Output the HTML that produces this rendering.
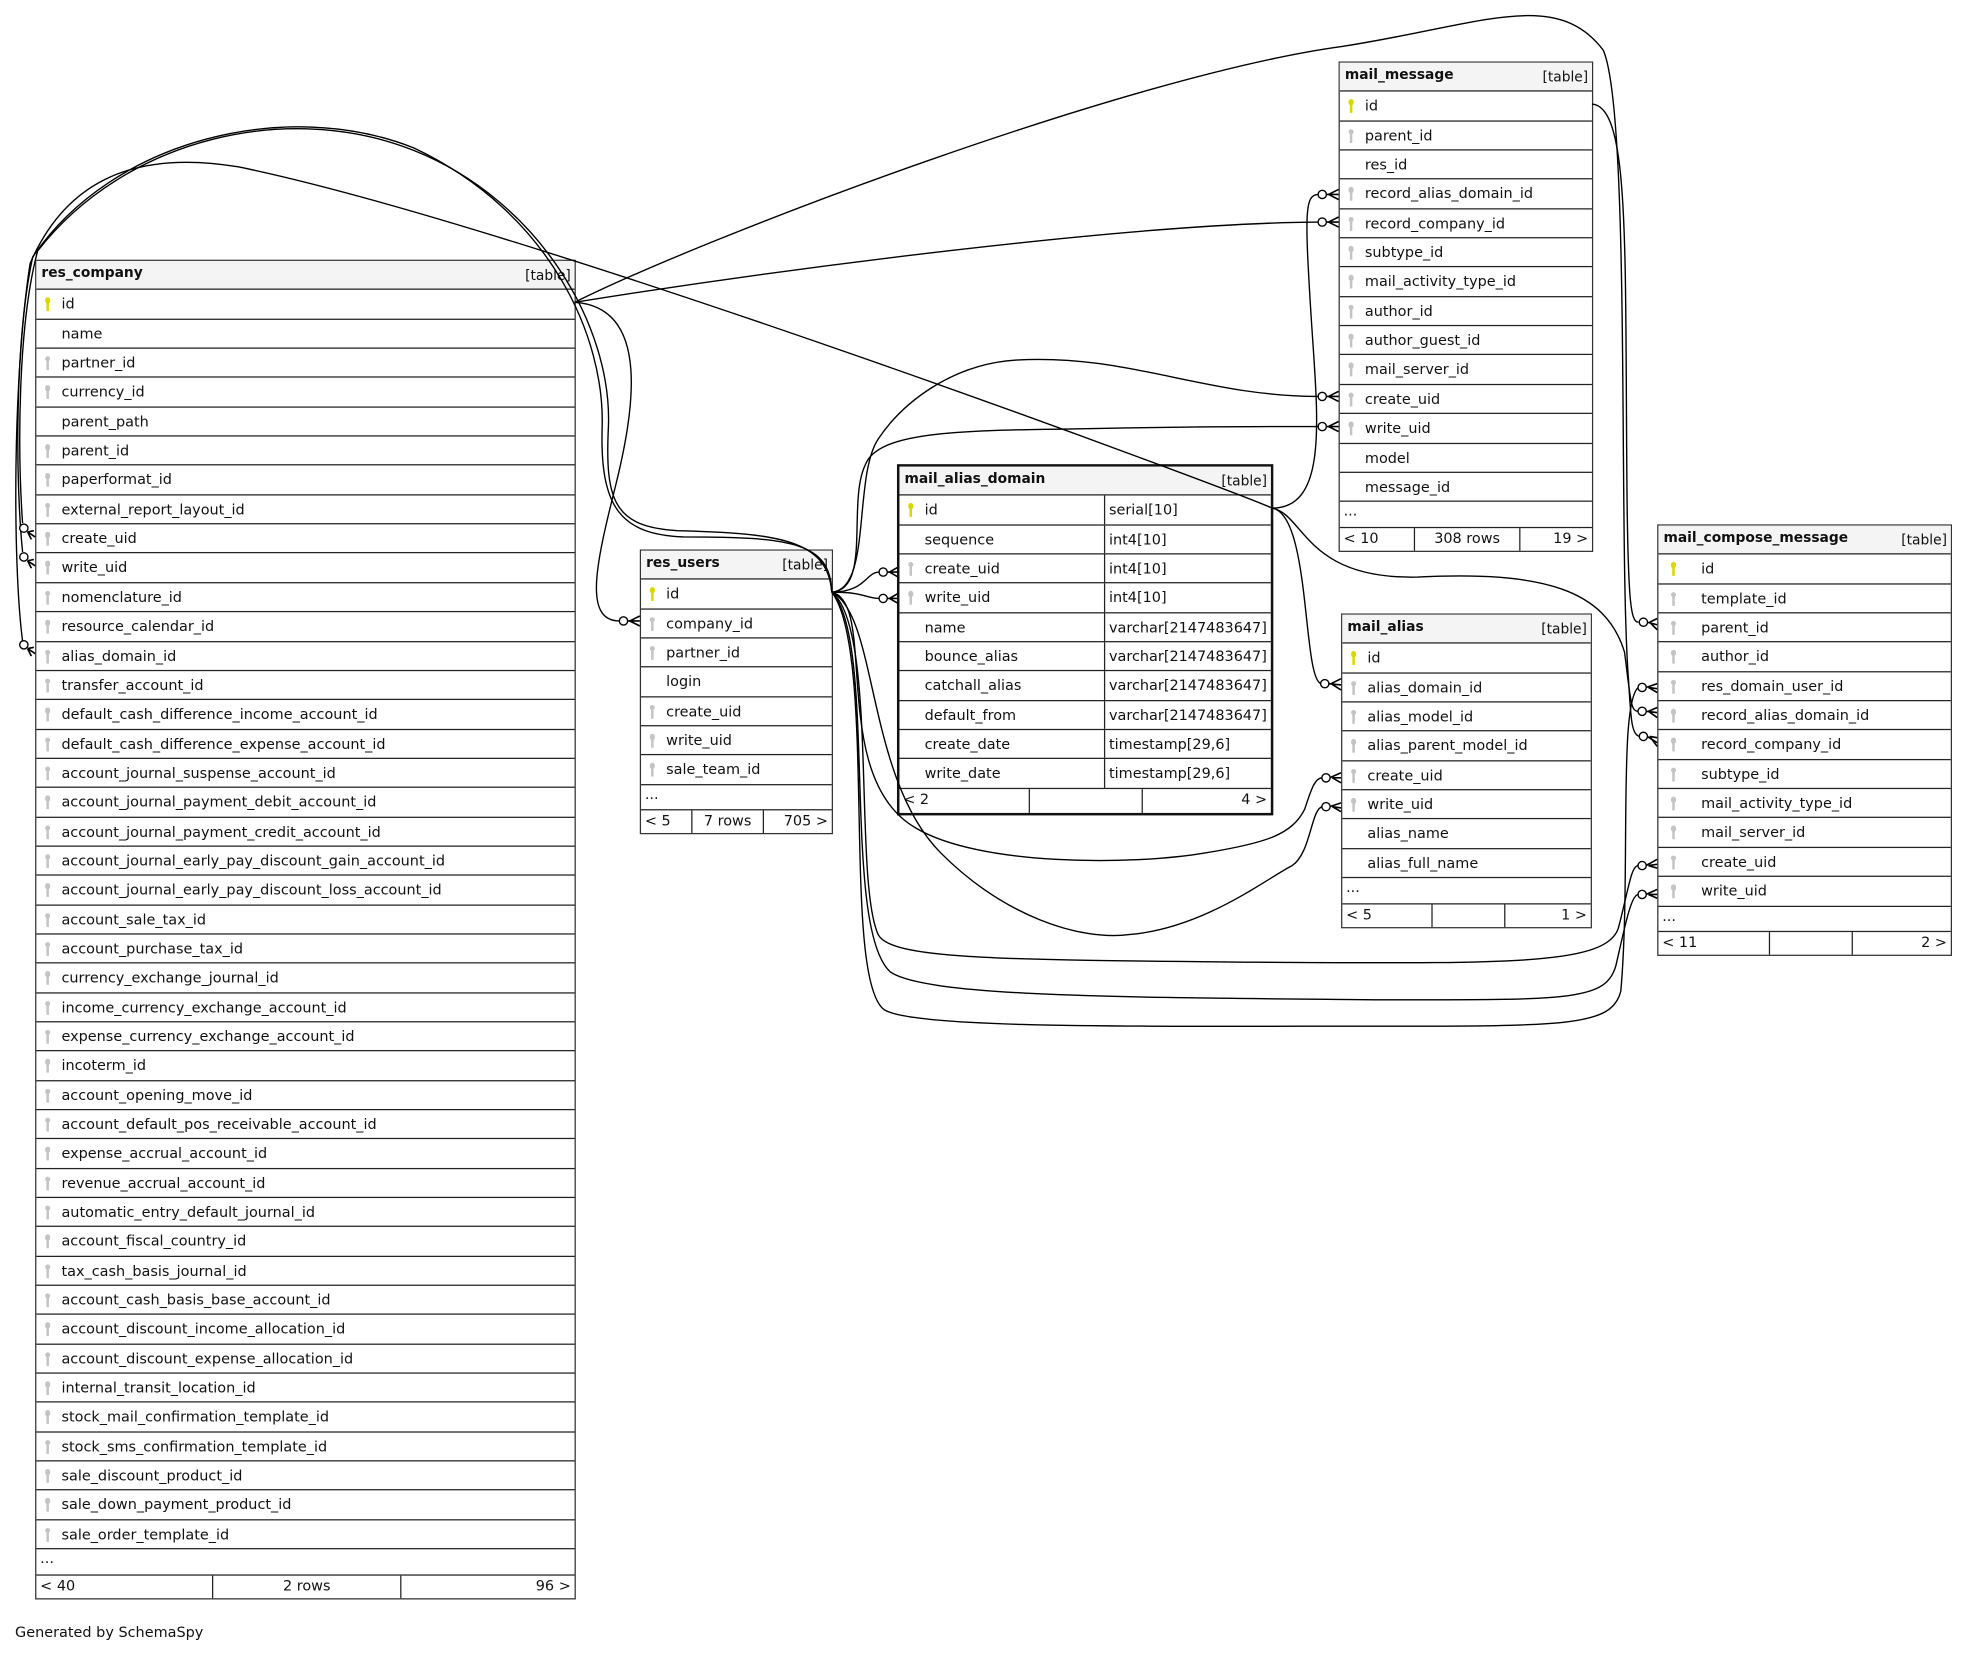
<!DOCTYPE html>
<html><head><meta charset="utf-8"><style>
html,body{margin:0;padding:0;background:#fff;width:1967px;height:1653px;overflow:hidden}
#c{position:absolute;left:0;top:0;width:1568px;height:1318px;transform:scale(1.2545);transform-origin:0 0;font-family:"DejaVu Sans","Liberation Sans",sans-serif;font-size:11.5px;color:#111}
.t{position:absolute;border:1.2px solid #333;background:#fff;box-sizing:border-box}
.t.b{border:2.6px solid #111}
.h{height:23.4px;background:#f4f4f4;border-bottom:1.2px solid #222;box-sizing:border-box;display:flex;justify-content:space-between;align-items:center;padding:0 3px 0 4px;white-space:nowrap;font-size:11px}
.h b{font-weight:bold;position:relative;top:-2px}
.r{height:23.35px;border-bottom:1.2px solid #222;box-sizing:border-box;line-height:22px;padding-left:20px;position:relative;white-space:nowrap}
.w .r{padding-left:34px}
.r.k::before{content:"";position:absolute;left:6.5px;top:6px;width:4.4px;height:4.4px;border-radius:50%;background:#c4c4c4}
.r.k::after{content:"";position:absolute;left:8px;top:8px;width:1.6px;height:9px;background:#c4c4c4}
.w .r.k::before{left:9.5px}.w .r.k::after{left:11px}
.r.p::before,.r.p::after{background:#d8d800}
.d{height:20.5px;border-bottom:1.2px solid #222;box-sizing:border-box;line-height:15px;padding-left:3px}
.f{display:flex;height:18px;line-height:17px;white-space:nowrap}
.f div{box-sizing:border-box;padding:0 3px}
.f div+div{border-left:1.2px solid #222}
.f .m{text-align:center}.f .e{text-align:right}
.r .ty{position:absolute;left:163px;top:0;bottom:0;border-left:1.2px solid #222;padding-left:3px}
svg{position:absolute;left:0;top:0}
</style></head><body><div id="c">

<div class="t" style="left:28px;top:207px;width:431px">
<div class="h"><b>res_company</b><span>[table]</span></div>
<div class="r k p">id</div><div class="r">name</div><div class="r k">partner_id</div><div class="r k">currency_id</div><div class="r">parent_path</div><div class="r k">parent_id</div><div class="r k">paperformat_id</div><div class="r k">external_report_layout_id</div><div class="r k">create_uid</div><div class="r k">write_uid</div><div class="r k">nomenclature_id</div><div class="r k">resource_calendar_id</div><div class="r k">alias_domain_id</div><div class="r k">transfer_account_id</div><div class="r k">default_cash_difference_income_account_id</div><div class="r k">default_cash_difference_expense_account_id</div><div class="r k">account_journal_suspense_account_id</div><div class="r k">account_journal_payment_debit_account_id</div><div class="r k">account_journal_payment_credit_account_id</div><div class="r k">account_journal_early_pay_discount_gain_account_id</div><div class="r k">account_journal_early_pay_discount_loss_account_id</div><div class="r k">account_sale_tax_id</div><div class="r k">account_purchase_tax_id</div><div class="r k">currency_exchange_journal_id</div><div class="r k">income_currency_exchange_account_id</div><div class="r k">expense_currency_exchange_account_id</div><div class="r k">incoterm_id</div><div class="r k">account_opening_move_id</div><div class="r k">account_default_pos_receivable_account_id</div><div class="r k">expense_accrual_account_id</div><div class="r k">revenue_accrual_account_id</div><div class="r k">automatic_entry_default_journal_id</div><div class="r k">account_fiscal_country_id</div><div class="r k">tax_cash_basis_journal_id</div><div class="r k">account_cash_basis_base_account_id</div><div class="r k">account_discount_income_allocation_id</div><div class="r k">account_discount_expense_allocation_id</div><div class="r k">internal_transit_location_id</div><div class="r k">stock_mail_confirmation_template_id</div><div class="r k">stock_sms_confirmation_template_id</div><div class="r k">sale_discount_product_id</div><div class="r k">sale_down_payment_product_id</div><div class="r k">sale_order_template_id</div>
<div class="d">...</div>
<div class="f"><div style="width:140px">&lt; 40</div><div class="m" style="width:150px">2 rows</div><div class="e" style="flex:1">96 &gt;</div></div>
</div>

<div class="t" style="left:510px;top:438px;width:154px">
<div class="h"><b>res_users</b><span>[table]</span></div>
<div class="r k p">id</div><div class="r k">company_id</div><div class="r k">partner_id</div><div class="r">login</div><div class="r k">create_uid</div><div class="r k">write_uid</div><div class="r k">sale_team_id</div>
<div class="d">...</div>
<div class="f"><div style="width:40px">&lt; 5</div><div class="m" style="width:57px">7 rows</div><div class="e" style="flex:1">705 &gt;</div></div>
</div>

<div class="t b" style="left:715px;top:370px;width:300px">
<div class="h"><b>mail_alias_domain</b><span>[table]</span></div>
<div class="r k p">id<span class="ty">serial[10]</span></div><div class="r">sequence<span class="ty">int4[10]</span></div><div class="r k">create_uid<span class="ty">int4[10]</span></div><div class="r k">write_uid<span class="ty">int4[10]</span></div><div class="r">name<span class="ty">varchar[2147483647]</span></div><div class="r">bounce_alias<span class="ty">varchar[2147483647]</span></div><div class="r">catchall_alias<span class="ty">varchar[2147483647]</span></div><div class="r">default_from<span class="ty">varchar[2147483647]</span></div><div class="r">create_date<span class="ty">timestamp[29,6]</span></div><div class="r">write_date<span class="ty">timestamp[29,6]</span></div>
<div class="f" style="height:19px"><div style="width:103px">&lt; 2</div><div style="width:90px"></div><div class="e" style="flex:1">4 &gt;</div></div>
</div>

<div class="t" style="left:1067px;top:49px;width:203px">
<div class="h"><b>mail_message</b><span>[table]</span></div>
<div class="r k p">id</div><div class="r k">parent_id</div><div class="r">res_id</div><div class="r k">record_alias_domain_id</div><div class="r k">record_company_id</div><div class="r k">subtype_id</div><div class="r k">mail_activity_type_id</div><div class="r k">author_id</div><div class="r k">author_guest_id</div><div class="r k">mail_server_id</div><div class="r k">create_uid</div><div class="r k">write_uid</div><div class="r">model</div><div class="r">message_id</div>
<div class="d">...</div>
<div class="f"><div style="width:59px">&lt; 10</div><div class="m" style="width:84px">308 rows</div><div class="e" style="flex:1">19 &gt;</div></div>
</div>

<div class="t" style="left:1069px;top:489px;width:200px">
<div class="h"><b>mail_alias</b><span>[table]</span></div>
<div class="r k p">id</div><div class="r k">alias_domain_id</div><div class="r k">alias_model_id</div><div class="r k">alias_parent_model_id</div><div class="r k">create_uid</div><div class="r k">write_uid</div><div class="r">alias_name</div><div class="r">alias_full_name</div>
<div class="d">...</div>
<div class="f"><div style="width:71px">&lt; 5</div><div style="width:58px"></div><div class="e" style="flex:1">1 &gt;</div></div>
</div>

<div class="t w" style="left:1321px;top:418px;width:235px">
<div class="h"><b>mail_compose_message</b><span>[table]</span></div>
<div class="r k p">id</div><div class="r k">template_id</div><div class="r k">parent_id</div><div class="r k">author_id</div><div class="r k">res_domain_user_id</div><div class="r k">record_alias_domain_id</div><div class="r k">record_company_id</div><div class="r k">subtype_id</div><div class="r k">mail_activity_type_id</div><div class="r k">mail_server_id</div><div class="r k">create_uid</div><div class="r k">write_uid</div>
<div class="d">...</div>
<div class="f"><div style="width:88px">&lt; 11</div><div style="width:66px"></div><div class="e" style="flex:1">2 &gt;</div></div>
</div>

<div style="position:absolute;left:12px;top:1294px">Generated by SchemaSpy</div>

<svg width="1568" height="1318" viewBox="0 0 1568 1318" fill="none" stroke="#000" stroke-width="1.1">
<path d="M663,472 C660,430 620,425 540,423 C490,420 482,400 485,340 C488,260 430,160 330,120 C230,80 100,110 30,200 C14,260 14,360 18,417"/>
<path d="M663,472 C662,432 630,428 545,428 C495,426 478,405 480,340 C482,270 440,170 330,118 C230,78 90,110 26,205 C12,270 12,380 18,440"/>
<path d="M1014,405 C980,390 420,180 190,133 C100,118 50,150 24,210 C10,300 10,450 18,511"/>
<path d="M458,241 C520,245 505,330 490,390 C475,450 465,495 494,495"/>
<path d="M458,241 C620,215 900,178 1051,177"/>
<path d="M458,241 C560,190 900,60 1070,37 C1180,20 1240,-10 1278,40 C1300,90 1290,430 1298,540 C1300,570 1300,586 1307,587"/>
<path d="M1269,83 C1300,85 1295,200 1297,400 C1298,480 1300,496 1306,496"/>
<path d="M1014,405 C1060,405 1050,330 1045,250 C1040,170 1040,155 1051,155"/>
<path d="M1014,405 C1045,410 1038,540 1053,545"/>
<path d="M1014,405 C1040,410 1040,462 1130,460 C1230,455 1280,470 1295,520 C1300,560 1300,567 1306,567"/>
<path d="M663,472 C690,472 690,456 701,456"/>
<path d="M663,472 C690,472 690,477 701,477"/>
<path d="M663,472 C695,470 680,380 700,350 C720,320 760,290 810,287 C900,282 960,316 1051,316"/>
<path d="M663,472 C695,470 675,400 690,370 C700,345 760,343 850,342 C950,340 1000,340 1051,340"/>
<path d="M663,472 C700,480 660,620 730,660 C780,690 900,690 960,680 C1010,672 1030,665 1040,645 C1045,630 1048,620 1054,620"/>
<path d="M663,472 C700,490 690,620 750,680 C800,730 860,750 900,745 C960,740 1010,700 1030,690 C1045,680 1045,645 1054,643"/>
<path d="M663,472 C700,500 680,700 700,745 C710,765 800,765 1000,767 C1200,768 1280,770 1290,740 C1298,710 1300,690 1306,690"/>
<path d="M663,472 C700,510 670,740 710,775 C740,795 900,795 1100,797 C1250,797 1280,798 1288,770 C1295,740 1300,713 1306,713"/>
<path d="M663,472 C700,520 670,780 705,805 C730,820 900,818 1100,818 C1250,818 1285,818 1292,790 C1300,700 1290,560 1306,548"/>
<g fill="#fff" stroke-width="1.1">
<circle cx="19" cy="421" r="3.3"/><circle cx="19" cy="444" r="3.3"/><circle cx="19" cy="514" r="3.3"/>
<circle cx="497" cy="495" r="3.3"/><circle cx="1054" cy="177" r="3.3"/><circle cx="1054" cy="155" r="3.3"/>
<circle cx="1054" cy="316" r="3.3"/><circle cx="1054" cy="340" r="3.3"/><circle cx="704" cy="456" r="3.3"/><circle cx="704" cy="477" r="3.3"/>
<circle cx="1056" cy="545" r="3.3"/><circle cx="1057" cy="620" r="3.3"/><circle cx="1057" cy="643" r="3.3"/>
<circle cx="1310" cy="496" r="3.3"/><circle cx="1309" cy="548" r="3.3"/><circle cx="1309" cy="567" r="3.3"/><circle cx="1310" cy="587" r="3.3"/>
<circle cx="1309" cy="690" r="3.3"/><circle cx="1309" cy="713" r="3.3"/>
</g>
<g stroke-width="1.3">
<path d="M22,424 L28,428 M22,424 L27,423 M22,424 L25,430"/>
<path d="M22,447 L28,451 M22,447 L27,446 M22,447 L25,453"/>
<path d="M22,517 L28,521 M22,517 L27,516 M22,517 L25,523"/>
<path d="M500,495 L510,495 M502,495 L510,491 M502,495 L510,499"/>
<path d="M1057,177 L1067,177 M1059,177 L1067,173 M1059,177 L1067,181"/>
<path d="M1057,155 L1067,155 M1059,155 L1067,151 M1059,155 L1067,159"/>
<path d="M1057,316 L1067,316 M1059,316 L1067,312 M1059,316 L1067,320"/>
<path d="M1057,340 L1067,340 M1059,340 L1067,336 M1059,340 L1067,344"/>
<path d="M707,456 L716,456 M709,456 L716,452 M709,456 L716,460"/>
<path d="M707,477 L716,477 M709,477 L716,473 M709,477 L716,481"/>
<path d="M1059,545 L1069,546 M1061,545 L1069,541 M1061,545 L1069,550"/>
<path d="M1060,620 L1069,616 M1062,620 L1069,620 M1062,620 L1069,624"/>
<path d="M1060,643 L1069,640 M1062,643 L1069,644 M1062,643 L1069,647"/>
<path d="M1313,496 L1321,498 M1315,496 L1321,493 M1315,496 L1321,502"/>
<path d="M1312,548 L1321,545 M1314,548 L1321,549 M1314,548 L1321,552"/>
<path d="M1312,567 L1321,568 M1314,567 L1321,564 M1314,567 L1321,572"/>
<path d="M1313,587 L1321,592 M1315,587 L1321,588 M1315,587 L1321,595"/>
<path d="M1312,690 L1321,685 M1314,690 L1321,689 M1314,690 L1321,692"/>
<path d="M1312,713 L1321,709 M1314,713 L1321,713 M1314,713 L1321,716"/>
</g>
</svg>
</div></body></html>
